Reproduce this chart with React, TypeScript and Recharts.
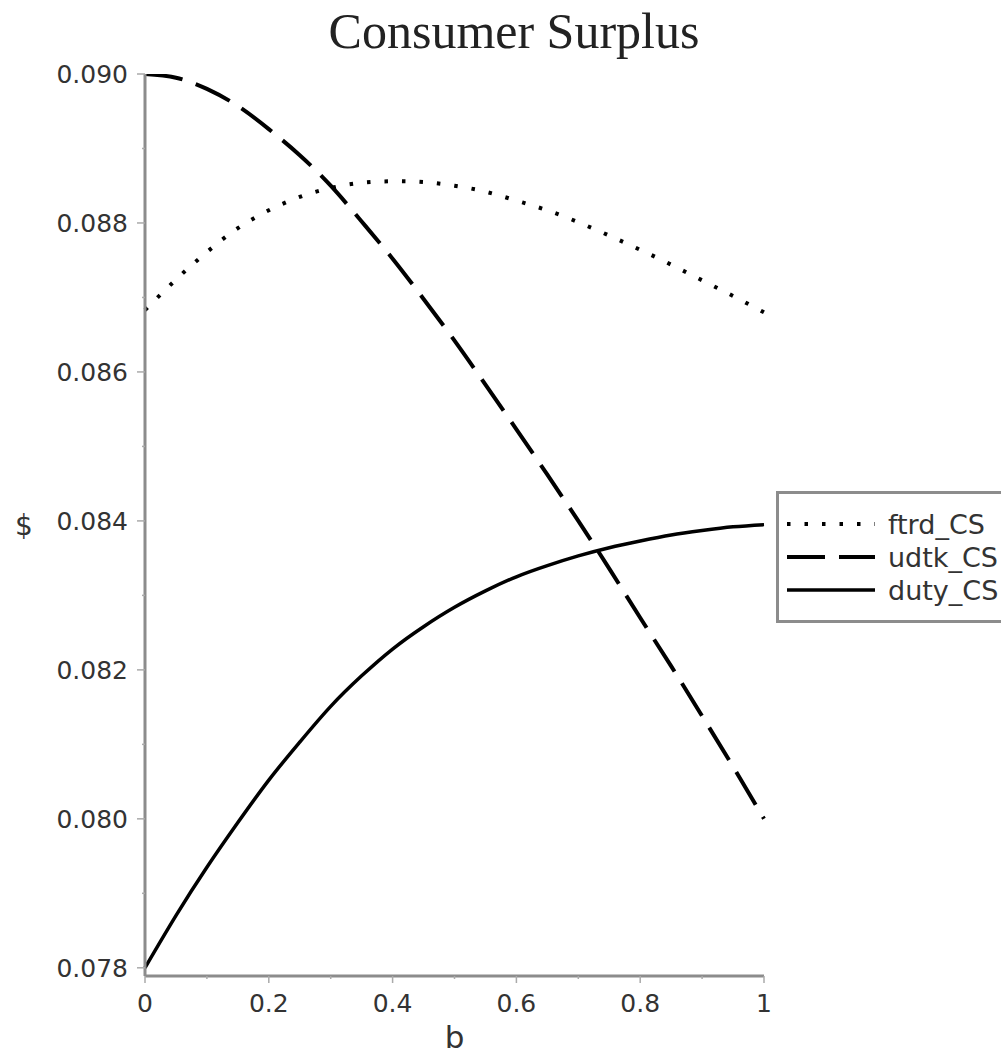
import React from 'react';
import { LineChart, Line, XAxis, YAxis, Legend } from 'recharts';

const bValues = [0, 0.05, 0.1, 0.15, 0.2, 0.25, 0.3, 0.35, 0.4, 0.45, 0.5, 0.55, 0.6, 0.65, 0.7, 0.75, 0.8, 0.85, 0.9, 0.95, 1.0];
const ftrdCS = [0.08683, 0.08724, 0.08761, 0.08793, 0.08817, 0.08835, 0.08847, 0.08854, 0.08856, 0.08855, 0.0885, 0.08842, 0.0883, 0.08817, 0.08801, 0.08783, 0.08764, 0.08744, 0.08723, 0.08702, 0.0868];
const udtkCS = [0.09, 0.08995, 0.0898, 0.08957, 0.08926, 0.08891, 0.0885, 0.08802, 0.08752, 0.08698, 0.08642, 0.08583, 0.08523, 0.08462, 0.084, 0.08336, 0.0827, 0.08205, 0.08138, 0.0807, 0.08];
const dutyCS = [0.078, 0.0787, 0.07935, 0.07995, 0.08052, 0.08103, 0.08151, 0.08192, 0.08228, 0.08258, 0.08284, 0.08306, 0.08325, 0.0834, 0.08353, 0.08364, 0.08373, 0.08381, 0.08387, 0.08392, 0.08395];

const xTicks = [0, 0.1, 0.2, 0.3, 0.4, 0.5, 0.6, 0.7, 0.8, 0.9, 1];
const xMajorLabels: Record<string, string> = { '0': '0', '0.2': '0.2', '0.4': '0.4', '0.6': '0.6', '0.8': '0.8', '1': '1' };
const yTicks = [0.078, 0.079, 0.08, 0.081, 0.082, 0.083, 0.084, 0.085, 0.086, 0.087, 0.088, 0.089, 0.09];
const yMajorLabels: Record<string, string> = { '0.078': '0.078', '0.08': '0.080', '0.082': '0.082', '0.084': '0.084', '0.086': '0.086', '0.088': '0.088', '0.09': '0.090' };

const series = [
  { key: 'ftrd_CS', values: ftrdCS, dash: '3.5 14', width: 4 },
  { key: 'udtk_CS', values: udtkCS, dash: '38 14', width: 4 },
  { key: 'duty_CS', values: dutyCS, dash: undefined as string | undefined, width: 3.5 },
];

const data = bValues.map((b, i) => {
  const row: Record<string, number> = { b };
  series.forEach((s) => { row[s.key] = s.values[i]; });
  return row;
});

const AXIS = '#8c8c8c';
const TICK = '#aaaaaa';
const TEXT = '#333333';
const SANS = '"DejaVu Sans", sans-serif';

const keyOf = (v: number) => String(Number(v.toFixed(4)));

const XTick = (props: any) => {
  const { x, y, payload } = props;
  const label = xMajorLabels[keyOf(payload.value)];
  return (
    <g>
      <line x1={x} x2={x} y1={y} y2={y + (label ? 7 : 3)} stroke={TICK} strokeWidth={1.5} />
      {label && (
        <text x={x} y={y + 36} textAnchor="middle" fontFamily={SANS} fontSize={25} fill={TEXT}>{label}</text>
      )}
    </g>
  );
};

const YTick = (props: any) => {
  const { x, y, payload } = props;
  const label = yMajorLabels[keyOf(payload.value)];
  return (
    <g>
      <line x1={x} x2={x - (label ? 8 : 3)} y1={y} y2={y} stroke={TICK} strokeWidth={1.5} />
      {label && (
        <text x={x - 17} y={y + 9} textAnchor="end" fontFamily={SANS} fontSize={25} fill={TEXT}>{label}</text>
      )}
    </g>
  );
};

const XLabel = (props: any) => {
  const { viewBox } = props;
  return (
    <text x={viewBox.x + viewBox.width / 2} y={viewBox.y + 72} textAnchor="middle" fontFamily={SANS} fontSize={31} fill={TEXT}>b</text>
  );
};

const YLabel = (props: any) => {
  const { viewBox } = props;
  return (
    <text x={viewBox.x + 24} y={viewBox.y + viewBox.height / 2 + 10} textAnchor="middle" fontFamily={SANS} fontSize={28} fill={TEXT}>$</text>
  );
};

const LegendBox = (props: any) => {
  const payload = props.payload || [];
  return (
    <div style={{ width: 240, height: 126, border: `3px solid ${AXIS}`, background: '#fff', boxSizing: 'content-box' }}>
      <svg width={240} height={126} style={{ display: 'block' }}>
        {series.map((s, i) => {
          const entry = payload.find((p: any) => p.dataKey === s.key || p.value === s.key);
          const y = 30 + i * 33;
          return (
            <g key={s.key}>
              <line x1={8} x2={96} y1={y} y2={y} stroke={entry?.color || '#000'} strokeWidth={s.width} strokeDasharray={s.dash} />
              <text x={109} y={y + 10} fontFamily={SANS} fontSize={27} fill={TEXT}>{entry?.value ?? s.key}</text>
            </g>
          );
        })}
      </svg>
    </div>
  );
};

export default function App() {
  return (
    <div style={{ position: 'absolute', left: 0, top: 0, width: 1001, height: 1056, overflow: 'hidden', background: '#fff' }}>
      <div style={{ position: 'absolute', left: 514, top: 6, transform: 'translateX(-50%)', fontFamily: '"Liberation Serif", "Times New Roman", serif', fontSize: 50, lineHeight: '50px', whiteSpace: 'nowrap', color: '#222' }}>
        Consumer Surplus
      </div>
      <LineChart width={1001} height={1056} data={data} margin={{ top: 74, right: 237, bottom: 0, left: 0 }}>
        <XAxis
          dataKey="b"
          type="number"
          domain={[0, 1]}
          ticks={xTicks}
          interval={0}
          height={80}
          tickSize={0}
          tickMargin={0}
          tick={<XTick />}
          axisLine={{ stroke: AXIS, strokeWidth: 3 }}
          tickLine={false}
          label={<XLabel />}
        />
        <YAxis
          type="number"
          domain={[0.07789, 0.09]}
          ticks={yTicks}
          interval={0}
          width={145}
          tickSize={0}
          tickMargin={0}
          tick={<YTick />}
          axisLine={{ stroke: AXIS, strokeWidth: 3 }}
          tickLine={false}
          allowDataOverflow
          label={<YLabel />}
        />
        <Legend
          content={<LegendBox />}
          layout="horizontal"
          align="center"
          verticalAlign="middle"
          wrapperStyle={{ position: 'absolute', left: 776, top: 491, width: 246, height: 132 }}
        />
        {series.map((s) => (
          <Line
            key={s.key}
            dataKey={s.key}
            name={s.key}
            type="natural"
            stroke="#000"
            strokeWidth={s.width}
            strokeDasharray={s.dash}
            strokeLinecap="butt"
            dot={false}
            activeDot={false}
            isAnimationActive={false}
          />
        ))}
      </LineChart>
    </div>
  );
}
